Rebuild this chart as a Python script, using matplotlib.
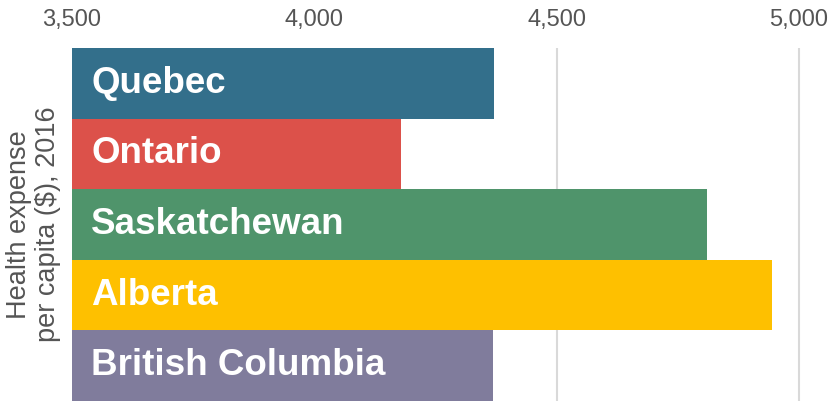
import matplotlib.pyplot as plt

provinces = ['Quebec', 'Ontario', 'Saskatchewan', 'Alberta', 'British Columbia']
expense = [4370, 4180, 4810, 4945, 4369]
colors = ['#336f8b', '#dc514a', '#4f946b', '#fec000', '#807c9c']
ticks = [3500, 4000, 4500, 5000]

plt.rcParams['font.family'] = ['Liberation Sans', 'DejaVu Sans']

fig = plt.figure(figsize=(8.31, 4.01), dpi=100)
ax = fig.add_axes([72 / 831, 0, 751 / 831, 353 / 401])

y = list(range(len(provinces)))
base = ticks[0]
ax.barh(y, [v - base for v in expense], left=base, height=1.0, color=colors, zorder=2)

for yi, name in zip(y, provinces):
    ax.text(base + 40, yi, name, color='white', fontsize=26.5, fontweight='bold',
            va='center', ha='left', zorder=3)

ax.set_xlim(3500, 5050)
ax.set_ylim(len(provinces) - 0.5, -0.5)
ax.set_xticks(ticks, [f'{t:,}' for t in ticks])
ax.xaxis.tick_top()
ax.tick_params(axis='x', length=0, pad=12, labelsize=17, labelcolor='#555555')
ax.set_yticks([])
ax.grid(axis='x', color='#d9d9d9', linewidth=1.5, zorder=0)
ax.set_axisbelow(True)
for s in ax.spines.values():
    s.set_visible(False)

ax.set_ylabel('Health expense\nper capita ($), 2016', fontsize=19.5, color='#555555',
              labelpad=8, linespacing=1.12)

fig.savefig('out.png', dpi=100)
